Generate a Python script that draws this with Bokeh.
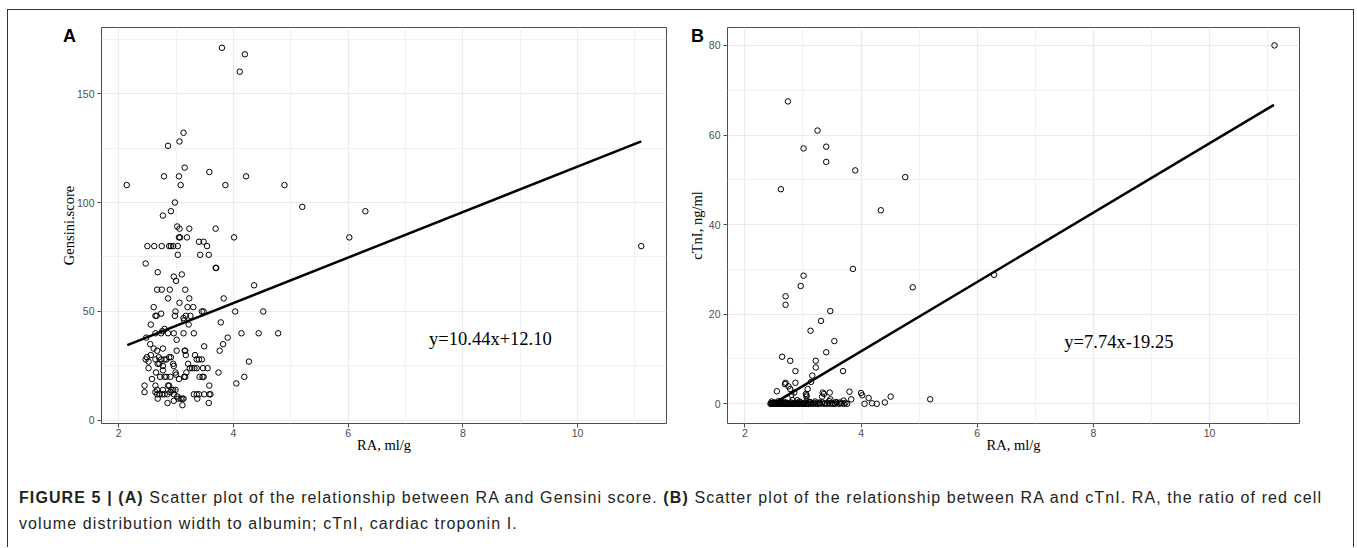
from bokeh.plotting import figure
from bokeh.models import Label, FixedTicker, Div
from bokeh.layouts import row, column
from bokeh.embed import file_html
from bokeh.resources import INLINE

# ---------------- data ----------------
ra_a = [3.80, 4.20, 4.11, 3.13, 3.06, 2.86, 3.15, 3.58, 2.79, 3.05, 4.22, 2.14, 3.08, 3.86, 4.89,
        5.20, 6.30, 2.91, 2.98, 2.77, 3.02, 3.06, 3.23, 3.69, 3.05, 3.07, 3.19, 4.01, 6.02, 11.11,
        2.50, 2.62, 2.75, 2.88, 2.91, 2.95, 3.03, 3.54, 3.40, 3.48, 3.03, 3.42, 3.57, 2.47, 3.69,
        3.70, 2.68, 3.10, 2.96, 3.00, 4.36, 2.67, 2.75, 2.89, 3.16, 2.86, 3.23, 3.83, 3.06, 2.61,
        3.20, 3.30, 2.99, 3.45, 3.48, 4.03, 4.52, 2.74, 2.64, 2.66, 2.98, 3.17, 3.25, 3.13, 3.14,
        3.78, 2.56, 3.22, 2.80, 2.76, 2.64, 2.74, 2.86, 2.96, 3.13, 3.31, 4.14, 4.44, 4.78, 3.90,
        2.48, 3.01, 2.55, 3.82, 3.49, 2.61, 2.77, 3.01, 2.67, 3.15, 3.16, 3.76, 2.56, 3.17, 3.33,
        2.49, 2.70, 2.88, 2.91, 2.47, 2.64, 2.74, 2.80, 2.83, 3.36, 3.40, 3.45, 2.52, 4.27, 2.68,
        2.71, 2.95, 3.21, 2.77, 2.96, 2.52, 3.24, 3.28, 3.32, 3.36, 3.47, 3.55, 2.77, 2.65, 2.99,
        3.18, 3.74, 3.00, 2.72, 2.80, 2.83, 2.90, 3.14, 3.16, 3.41, 3.46, 3.48, 4.19, 2.58, 3.05,
        4.05, 2.45, 2.64, 2.86, 2.88, 3.58, 2.67, 2.77, 2.92, 2.95, 2.99, 2.45, 2.64, 2.90, 2.67,
        2.71, 2.76, 2.80, 2.85, 2.96, 3.31, 3.36, 3.40, 3.49, 3.58, 3.60, 3.02, 2.68, 3.04, 3.08,
        3.11, 3.13, 3.37, 2.96, 2.85, 3.57, 3.11]
gensini = [171, 168, 160, 132, 128, 126, 116, 114, 112, 112, 112, 108, 108, 108, 108,
           98, 96, 96, 100, 94, 89, 88, 88, 88, 84, 84, 84, 84, 84, 80,
           80, 80, 80, 80, 80, 80, 80, 80, 82, 82, 76, 76, 76, 72, 70,
           70, 68, 67, 66, 64, 62, 60, 60, 60, 60, 56, 56, 56, 54, 52,
           52, 52, 50, 50, 50, 50, 50, 49, 48, 48, 48, 48, 48, 47, 46,
           45, 44, 44, 42, 41, 40, 40, 40, 40, 40, 40, 40, 40, 40, 38,
           38, 37, 35, 35, 34, 33, 33, 32, 32, 32, 32, 32, 30, 30, 30,
           29, 29, 29, 29, 28, 28, 28, 28, 28, 28, 28, 28, 27, 27, 26,
           26, 26, 26, 25, 25, 24, 24, 24, 24, 24, 24, 24, 23, 22, 22,
           22, 22, 21, 20, 20, 20, 20, 20, 20, 20, 20, 20, 20, 19, 19,
           17, 16, 16, 16, 16, 16, 14, 14, 14, 14, 14, 13, 13, 13, 12,
           12, 12, 12, 12, 12, 12, 12, 12, 12, 12, 12, 11, 10, 10, 10,
           10, 10, 10, 9, 8, 8, 7]

ra_b = [11.12, 2.74, 3.25, 3.40, 3.01, 3.40, 3.90, 4.76, 2.62, 4.34, 3.86, 6.29, 3.01, 2.96, 4.89,
        2.70, 2.70, 3.47, 3.31, 3.13, 3.54, 3.40, 2.64, 2.78, 3.22, 3.22, 2.87, 3.69, 3.16, 2.70,
        2.87, 3.14, 2.75, 2.55, 2.78, 3.08, 3.34, 3.46, 3.80, 4.00, 4.02, 4.13, 4.51, 5.19, 3.83,
        4.41, 4.27, 4.06, 4.19, 3.06, 3.06, 3.33, 2.80, 2.85, 3.70, 3.47, 3.05, 3.36, 2.82, 2.90,
        2.69,
        2.44, 2.45, 2.46, 2.47, 2.48, 2.49, 2.50, 2.51, 2.52, 2.53, 2.54, 2.55, 2.56, 2.57, 2.58,
        2.59, 2.60, 2.61, 2.62, 2.63, 2.64, 2.65, 2.66, 2.67, 2.68, 2.69, 2.70, 2.71, 2.72, 2.73,
        2.75, 2.76, 2.77, 2.79, 2.80, 2.81, 2.83, 2.84, 2.86, 2.88, 2.89, 2.91, 2.92, 2.93, 2.95,
        2.97, 2.98, 3.00, 3.02, 3.03, 3.05, 3.07, 3.09, 3.10, 3.12, 3.14, 3.15, 3.18, 3.20, 3.23,
        3.26, 3.28, 3.30, 3.33, 3.36, 3.38, 3.41, 3.44, 3.47, 3.50, 3.52, 3.55, 3.58, 3.62, 3.66,
        3.70, 3.73, 3.76, 2.46, 2.58, 2.62, 2.94, 3.06, 3.11, 3.21, 3.29, 3.45, 3.57, 3.64]
ctni = [80.0, 67.5, 61.0, 57.4, 57.0, 54.0, 52.1, 50.6, 47.9, 43.2, 30.1, 28.8, 28.6, 26.3, 26.0,
        24.0, 22.1, 20.7, 18.5, 16.3, 14.0, 11.5, 10.5, 9.6, 9.6, 8.1, 7.3, 7.3, 6.3, 4.7,
        4.7, 4.9, 3.9, 2.8, 3.3, 3.3, 2.5, 2.5, 2.7, 2.4, 1.9, 1.3, 1.6, 1.0, 1.0,
        0.3, 0.0, 0.0, 0.1, 1.9, 1.6, 1.6, 2.0, 2.5, 0.7, 1.0, 2.2, 2.2, 0.8, 0.8,
        4.4,
        0.0, 0.1, 0.0, 0.2, 0.0, 0.1, 0.0, 0.3, 0.0, 0.1, 0.0, 0.2, 0.0, 0.0, 0.1,
        0.0, 0.3, 0.0, 0.1, 0.0, 0.0, 0.2, 0.0, 0.1, 0.4, 0.0, 0.0, 0.1, 0.0, 0.2,
        0.0, 0.1, 0.0, 0.3, 0.0, 0.0, 0.1, 0.0, 0.0, 0.2, 0.0, 0.1, 0.0, 0.0, 0.3,
        0.0, 0.1, 0.0, 0.0, 0.2, 0.0, 0.1, 0.0, 0.0, 0.4, 0.0, 0.1, 0.0, 0.2, 0.0,
        0.0, 0.1, 0.0, 0.3, 0.0, 0.1, 0.0, 0.2, 0.0, 0.1, 0.0, 0.0, 0.2, 0.0, 0.1,
        0.0, 0.2, 0.0, 0.5, 0.6, 0.4, 0.5, 0.6, 0.4, 0.5, 0.3, 0.6, 0.4, 0.3]

x_ticks = [2, 4, 6, 8, 10]
x_minor = [3, 5, 7, 9, 11]
ya_ticks = [0, 50, 100, 150]
ya_minor = [25, 75, 125, 175]
yb_ticks = [0, 20, 40, 60, 80]
yb_minor = [10, 30, 50, 70]

fit_a = (10.44, 12.10)
fit_b = (7.74, -19.25)
fit_a_x = [2.15, 11.11]
fit_b_x = [2.49, 11.11]
eq_a = "y=10.44x+12.10"
eq_b = "y=7.74x-19.25"
tags = ["A", "B"]

TICK_FONT = "Liberation Sans"
SERIF = "Liberation Serif"
H = 454
BORDER = "1px solid #333333"


def make_panel(xs, ys, yticks, yminor, yrange, ylabel, fit, fit_x, eq, eq_pos,
               width, mbl, mbr, ylab_standoff):
    p = figure(width=width, height=H, x_range=(1.70, 11.55), y_range=yrange,
               output_backend="svg", toolbar_location=None,
               min_border_left=mbl, min_border_right=mbr,
               min_border_top=17, min_border_bottom=41)
    p.background_fill_color = "white"
    p.border_fill_color = "white"
    p.outline_line_color = "#4d4d4d"
    p.outline_line_width = 1

    p.xaxis.ticker = FixedTicker(ticks=x_ticks, minor_ticks=x_minor)
    p.yaxis.ticker = FixedTicker(ticks=yticks, minor_ticks=yminor)
    for ax in (p.xaxis, p.yaxis):
        ax.axis_line_color = None
        ax.major_tick_line_color = "#4d4d4d"
        ax.major_tick_out = 4
        ax.major_tick_in = 0
        ax.minor_tick_line_color = None
        ax.major_label_text_font = TICK_FONT
        ax.major_label_text_font_size = "10.5px"
        ax.major_label_text_color = "#4d4d4d"
        ax.axis_label_text_font = SERIF
        ax.axis_label_text_font_style = "normal"
        ax.axis_label_text_font_size = "14.5px"
        ax.axis_label_text_color = "black"
    p.xaxis.axis_label = "RA, ml/g"
    p.yaxis.axis_label = ylabel
    p.xaxis.major_label_standoff = 1
    p.yaxis.major_label_standoff = 3
    p.xaxis.axis_label_standoff = -3
    p.yaxis.axis_label_standoff = ylab_standoff

    for g in (p.xgrid, p.ygrid):
        g.grid_line_color = "#ebebeb"
        g.grid_line_width = 1.2
        g.minor_grid_line_color = "#f2f2f2"
        g.minor_grid_line_width = 1

    slope, icpt = fit
    p.line(fit_x, [slope * v + icpt for v in fit_x], line_color="black", line_width=2.5)
    p.scatter(xs, ys, marker="circle", size=5.5, fill_color=None,
              line_color="black", line_width=1)

    p.add_layout(Label(x=eq_pos[0], y=eq_pos[1], text=eq, text_font=SERIF,
                       text_font_size="18.5px", text_align="center",
                       text_baseline="middle", text_color="black"))
    return p


pA = make_panel(ra_a, gensini, ya_ticks, ya_minor, (-1.4, 180.3), "Gensini.score",
                fit_a, fit_a_x, eq_a, (8.48, 37.5), width=672, mbl=93, mbr=14,
                ylab_standoff=-3)
pB = make_panel(ra_b, ctni, yb_ticks, yb_minor, (-4.4, 84.0), "cTnI, ng/ml",
                fit_b, fit_b_x, eq_b, (8.44, 13.9), width=673, mbl=47, mbr=54,
                ylab_standoff=1)

tag_style = ("position:absolute;top:4.5px;font-family:'Liberation Sans',Arial,sans-serif;"
             "font-weight:bold;font-size:18px;line-height:18px;color:black;")
tag_html = (
    '<div style="position:relative;height:0;overflow:visible;">'
    f'<span style="{tag_style}left:55px;">{tags[0]}</span>'
    f'<span style="{tag_style}left:683px;">{tags[1]}</span>'
    '</div>'
)
tag_div = Div(text=tag_html, width=1345, height=0, margin=0,
              styles={"position": "relative", "z-index": "10", "overflow": "visible"})

caption_html = (
    '<div style="font-family:\'Liberation Sans\',Arial,sans-serif;font-size:16px;'
    'letter-spacing:1.1px;line-height:25.5px;color:#231f20;padding:21px 0 0 11px;white-space:nowrap;">'
    '<b>FIGURE 5 | (A)</b> Scatter plot of the relationship between RA and Gensini score. '
    '<b>(B)</b> Scatter plot of the relationship between RA and cTnI. RA, the ratio of red cell'
    '<br>volume distribution width to albumin; cTnI, cardiac troponin I.</div>'
)
cap = Div(text=caption_html, width=1345, height=83, margin=0)

layout = column(tag_div, row(pA, pB), cap, margin=(9, 0, 0, 7),
                styles={"border-top": BORDER, "border-left": BORDER, "border-right": BORDER})

open("out.html", "w").write(file_html(layout, INLINE))
